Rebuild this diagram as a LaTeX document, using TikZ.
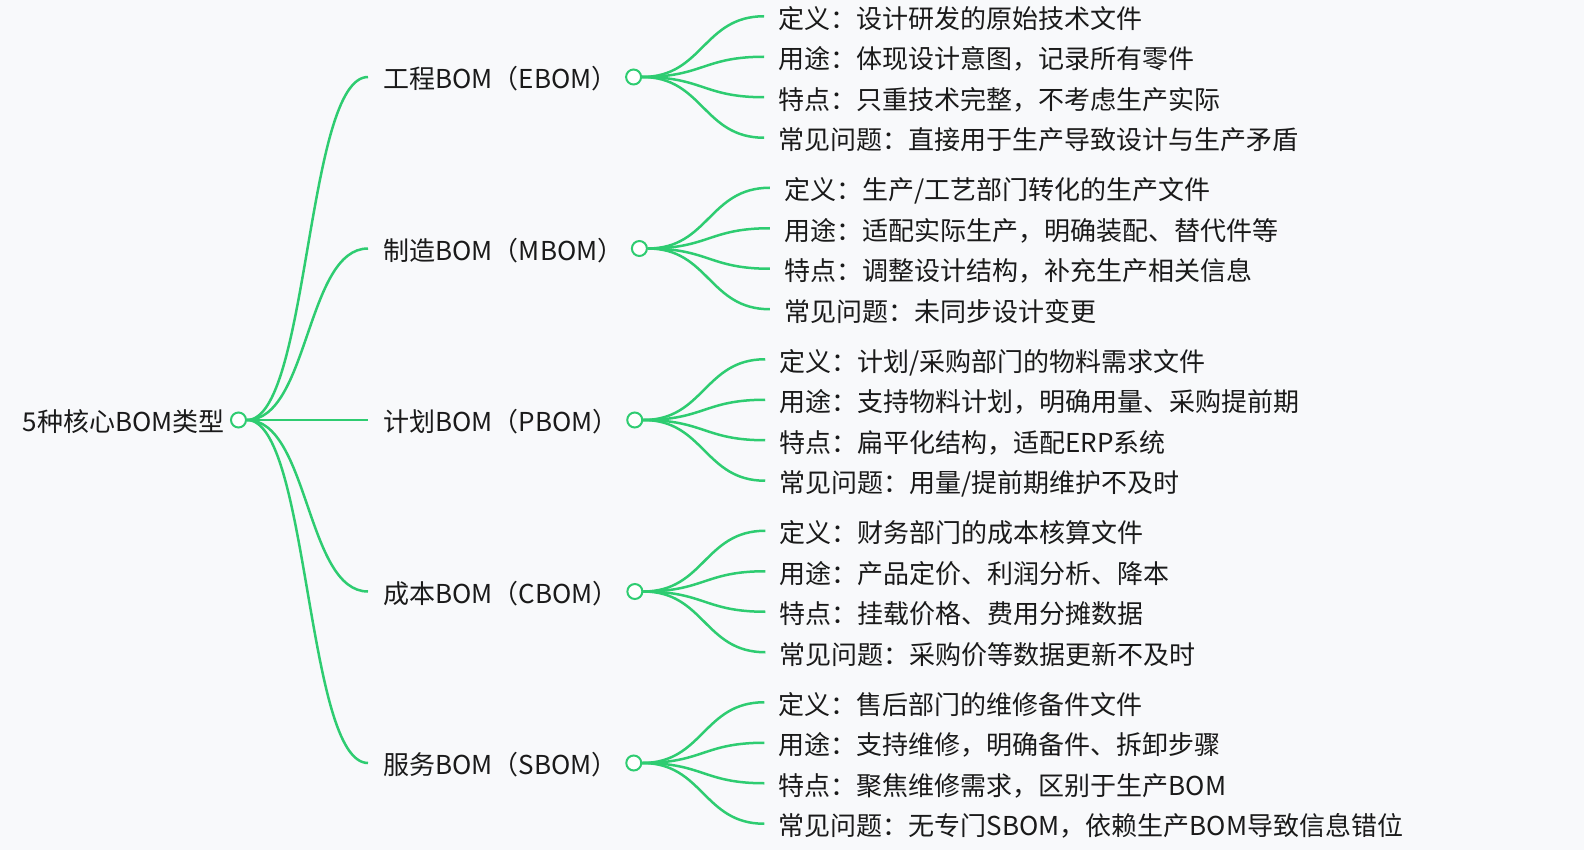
\documentclass[tikz,border=0pt]{standalone}
\usepackage{fontspec}
\setmainfont{Noto Sans CJK SC}
\usepackage{xcolor}
\usetikzlibrary{positioning, calc}
\definecolor{mapgreen}{RGB}{46,204,113}
\definecolor{mapbg}{RGB}{248,249,251}
\definecolor{maptext}{RGB}{26,26,26}

\begin{document}
\begin{tikzpicture}[
    x=0.5pt, y=-0.5pt,
    topic/.style={anchor=west, inner xsep=7.5pt, inner ysep=0pt, text height=11.8pt, text depth=0pt, text=maptext, font=\fontsize{13}{15}\selectfont},
    maintopic/.style={topic, anchor=east, inner xsep=0pt},
    leafnote/.style={topic, inner xsep=7pt},
    knob/.style={circle, draw=mapgreen, fill=white, line width=1pt, inner sep=0pt, minimum size=7.5pt},
    twig/.style={mapgreen, line width=1.25pt}
]

% Canvas
\fill[mapbg] (0,0) rectangle (1584,850);
\useasboundingbox (0,0) rectangle (1584,850);

% Root
\node[knob] (rootknob) at (238.5,420) {};
\node[maintopic, left=2.5pt of rootknob] (root) {5种核心BOM类型};

% Types
\node[topic] (ebom) at (368,77) {工程BOM（EBOM）};
\node[topic] (mbom) at (368,248.5) {制造BOM（MBOM）};
\node[topic] (pbom) at (368,420) {计划BOM（PBOM）};
\node[topic] (cbom) at (368,591.5) {成本BOM（CBOM）};
\node[topic] (sbom) at (368,763) {服务BOM（SBOM）};

\node[knob, right=-4pt of ebom] (ebomknob) {};
\node[knob, right=-4pt of mbom] (mbomknob) {};
\node[knob, right=-4pt of pbom] (pbomknob) {};
\node[knob, right=-4pt of cbom] (cbomknob) {};
\node[knob, right=-4pt of sbom] (sbomknob) {};

\draw[twig] (rootknob.east) .. controls +(62,0) and +(-62,0) .. (ebom.west);
\draw[twig] (rootknob.east) .. controls +(62,0) and +(-62,0) .. (mbom.west);
\draw[twig] (rootknob.east) -- (pbom.west);
\draw[twig] (rootknob.east) .. controls +(62,0) and +(-62,0) .. (cbom.west);
\draw[twig] (rootknob.east) .. controls +(62,0) and +(-62,0) .. (sbom.west);

% Engineering BOM
\node[leafnote] (ebom1) at ($(ebomknob.east)+(122,-60.75)$) {定义：设计研发的原始技术文件};
\node[leafnote] (ebom2) at ($(ebomknob.east)+(122,-20.25)$) {用途：体现设计意图，记录所有零件};
\node[leafnote] (ebom3) at ($(ebomknob.east)+(122,20.25)$) {特点：只重技术完整，不考虑生产实际};
\node[leafnote] (ebom4) at ($(ebomknob.east)+(122,60.75)$) {常见问题：直接用于生产导致设计与生产矛盾};

\draw[twig] (ebomknob.east) .. controls +(61,0) and +(-61,0) .. (ebom1.west);
\draw[twig] (ebomknob.east) .. controls +(61,0) and +(-61,0) .. (ebom2.west);
\draw[twig] (ebomknob.east) .. controls +(61,0) and +(-61,0) .. (ebom3.west);
\draw[twig] (ebomknob.east) .. controls +(61,0) and +(-61,0) .. (ebom4.west);

% Manufacturing BOM
\node[leafnote] (mbom1) at ($(mbomknob.east)+(122,-60.75)$) {定义：生产/工艺部门转化的生产文件};
\node[leafnote] (mbom2) at ($(mbomknob.east)+(122,-20.25)$) {用途：适配实际生产，明确装配、替代件等};
\node[leafnote] (mbom3) at ($(mbomknob.east)+(122,20.25)$) {特点：调整设计结构，补充生产相关信息};
\node[leafnote] (mbom4) at ($(mbomknob.east)+(122,60.75)$) {常见问题：未同步设计变更};

\draw[twig] (mbomknob.east) .. controls +(61,0) and +(-61,0) .. (mbom1.west);
\draw[twig] (mbomknob.east) .. controls +(61,0) and +(-61,0) .. (mbom2.west);
\draw[twig] (mbomknob.east) .. controls +(61,0) and +(-61,0) .. (mbom3.west);
\draw[twig] (mbomknob.east) .. controls +(61,0) and +(-61,0) .. (mbom4.west);

% Planning BOM
\node[leafnote] (pbom1) at ($(pbomknob.east)+(122,-60.75)$) {定义：计划/采购部门的物料需求文件};
\node[leafnote] (pbom2) at ($(pbomknob.east)+(122,-20.25)$) {用途：支持物料计划，明确用量、采购提前期};
\node[leafnote] (pbom3) at ($(pbomknob.east)+(122,20.25)$) {特点：扁平化结构，适配ERP系统};
\node[leafnote] (pbom4) at ($(pbomknob.east)+(122,60.75)$) {常见问题：用量/提前期维护不及时};

\draw[twig] (pbomknob.east) .. controls +(61,0) and +(-61,0) .. (pbom1.west);
\draw[twig] (pbomknob.east) .. controls +(61,0) and +(-61,0) .. (pbom2.west);
\draw[twig] (pbomknob.east) .. controls +(61,0) and +(-61,0) .. (pbom3.west);
\draw[twig] (pbomknob.east) .. controls +(61,0) and +(-61,0) .. (pbom4.west);

% Cost BOM
\node[leafnote] (cbom1) at ($(cbomknob.east)+(122,-60.75)$) {定义：财务部门的成本核算文件};
\node[leafnote] (cbom2) at ($(cbomknob.east)+(122,-20.25)$) {用途：产品定价、利润分析、降本};
\node[leafnote] (cbom3) at ($(cbomknob.east)+(122,20.25)$) {特点：挂载价格、费用分摊数据};
\node[leafnote] (cbom4) at ($(cbomknob.east)+(122,60.75)$) {常见问题：采购价等数据更新不及时};

\draw[twig] (cbomknob.east) .. controls +(61,0) and +(-61,0) .. (cbom1.west);
\draw[twig] (cbomknob.east) .. controls +(61,0) and +(-61,0) .. (cbom2.west);
\draw[twig] (cbomknob.east) .. controls +(61,0) and +(-61,0) .. (cbom3.west);
\draw[twig] (cbomknob.east) .. controls +(61,0) and +(-61,0) .. (cbom4.west);

% Service BOM
\node[leafnote] (sbom1) at ($(sbomknob.east)+(122,-60.75)$) {定义：售后部门的维修备件文件};
\node[leafnote] (sbom2) at ($(sbomknob.east)+(122,-20.25)$) {用途：支持维修，明确备件、拆卸步骤};
\node[leafnote] (sbom3) at ($(sbomknob.east)+(122,20.25)$) {特点：聚焦维修需求，区别于生产BOM};
\node[leafnote] (sbom4) at ($(sbomknob.east)+(122,60.75)$) {常见问题：无专门SBOM，依赖生产BOM导致信息错位};

\draw[twig] (sbomknob.east) .. controls +(61,0) and +(-61,0) .. (sbom1.west);
\draw[twig] (sbomknob.east) .. controls +(61,0) and +(-61,0) .. (sbom2.west);
\draw[twig] (sbomknob.east) .. controls +(61,0) and +(-61,0) .. (sbom3.west);
\draw[twig] (sbomknob.east) .. controls +(61,0) and +(-61,0) .. (sbom4.west);

\end{tikzpicture}
\end{document}
